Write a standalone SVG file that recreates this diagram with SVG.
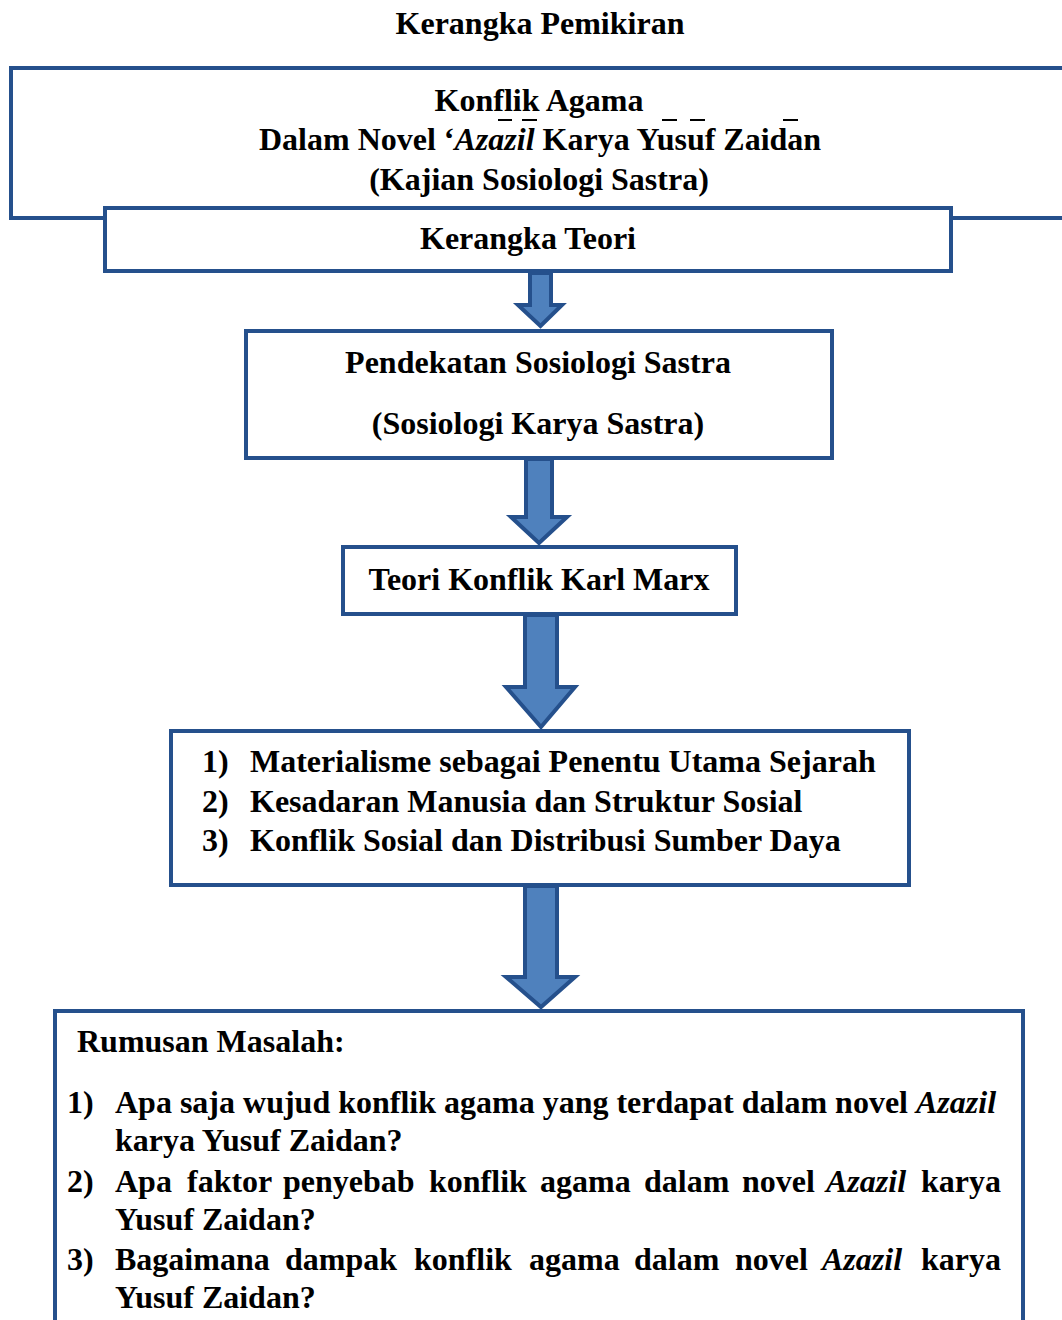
<svg xmlns="http://www.w3.org/2000/svg" width="1062" height="1320" viewBox="0 0 1062 1320">
<style>
text{font-family:"Liberation Serif","Times New Roman",serif;font-weight:bold;fill:#000;font-size:32px}
.c{text-anchor:middle}
.i{font-style:italic}
.box{fill:#fff;stroke:#25508c;stroke-width:4}
.arr{fill:#4f81bd;stroke:#25508c;stroke-width:4;stroke-linejoin:miter}
.mac{stroke:#000;stroke-width:2}
</style>
<rect width="1062" height="1320" fill="#fff"/>
<text id="title" class="c" x="540" y="34" font-size="31">Kerangka Pemikiran</text>
<g id="judul">
<path class="box" d="M1070,68 H11 V218 H1070"/>
<text class="c" x="539" y="111">Konflik Agama</text>
<text x="259" y="150">Dalam Novel ‘<tspan class="i">Azazil</tspan> Karya Yusuf Zaidan</text>
<line class="mac" x1="498" y1="120" x2="512" y2="120"/>
<line class="mac" x1="522" y1="120" x2="537" y2="120"/>
<line class="mac" x1="662" y1="120" x2="677" y2="120"/>
<line class="mac" x1="690" y1="120" x2="705" y2="120"/>
<line class="mac" x1="783" y1="120" x2="798" y2="120"/>
<text class="c" x="539" y="190">(Kajian Sosiologi Sastra)</text>
</g>
<g id="teori">
<rect class="box" x="105" y="208" width="846" height="63"/>
<text class="c" x="528" y="249">Kerangka Teori</text>
</g>
<g id="pendekatan">
<rect class="box" x="246" y="331" width="586" height="127"/>
<text class="c" x="538" y="373">Pendekatan Sosiologi Sastra</text>
<text class="c" x="538" y="434">(Sosiologi Karya Sastra)</text>
</g>
<g id="marx">
<rect class="box" x="343" y="547" width="393" height="67"/>
<text class="c" x="539" y="590">Teori Konflik Karl Marx</text>
</g>
<g id="konsep">
<rect class="box" x="171" y="731" width="738" height="154"/>
<text x="202" y="772">1)</text><text x="250" y="772">Materialisme sebagai Penentu Utama Sejarah</text>
<text x="202" y="812">2)</text><text x="250" y="812">Kesadaran Manusia dan Struktur Sosial</text>
<text x="202" y="851">3)</text><text x="250" y="851">Konflik Sosial dan Distribusi Sumber Daya</text>
</g>
<g id="rumusan">
<path class="box" d="M55,1330 V1011 H1023 V1330"/>
<text x="77" y="1052">Rumusan Masalah:</text>
<text x="67" y="1113">1)</text>
<text x="115" y="1113">Apa saja wujud konflik agama yang terdapat dalam novel <tspan class="i">Azazil</tspan></text>
<text x="115" y="1151">karya Yusuf Zaidan?</text>
<text x="67" y="1192">2)</text>
<text y="1192"><tspan x="115">Apa</tspan><tspan x="187">faktor</tspan><tspan x="283">penyebab</tspan><tspan x="429">konflik</tspan><tspan x="540">agama</tspan><tspan x="644">dalam</tspan><tspan x="742">novel</tspan><tspan x="826" class="i">Azazil</tspan><tspan x="921">karya</tspan></text>
<text x="115" y="1230">Yusuf Zaidan?</text>
<text x="67" y="1270">3)</text>
<text y="1270"><tspan x="115">Bagaimana</tspan><tspan x="285">dampak</tspan><tspan x="414">konflik</tspan><tspan x="529">agama</tspan><tspan x="634">dalam</tspan><tspan x="735">novel</tspan><tspan x="822" class="i">Azazil</tspan><tspan x="921">karya</tspan></text>
<text x="115" y="1308">Yusuf Zaidan?</text>
</g>
<g id="connectors">
<path class="arr" d="M530,273 H551 V305 H562 L540.5,326 L518,305 H530 Z"/>
<path class="arr" d="M526,459 H552 V517 H567 L539,543 L511,517 H526 Z"/>
<path class="arr" d="M525,615 H557 V687 H575 L541,727 L506,687 H525 Z"/>
<path class="arr" d="M525,886 H557 V977 H575 L541,1007 L506,977 H525 Z"/>
</g>
</svg>
